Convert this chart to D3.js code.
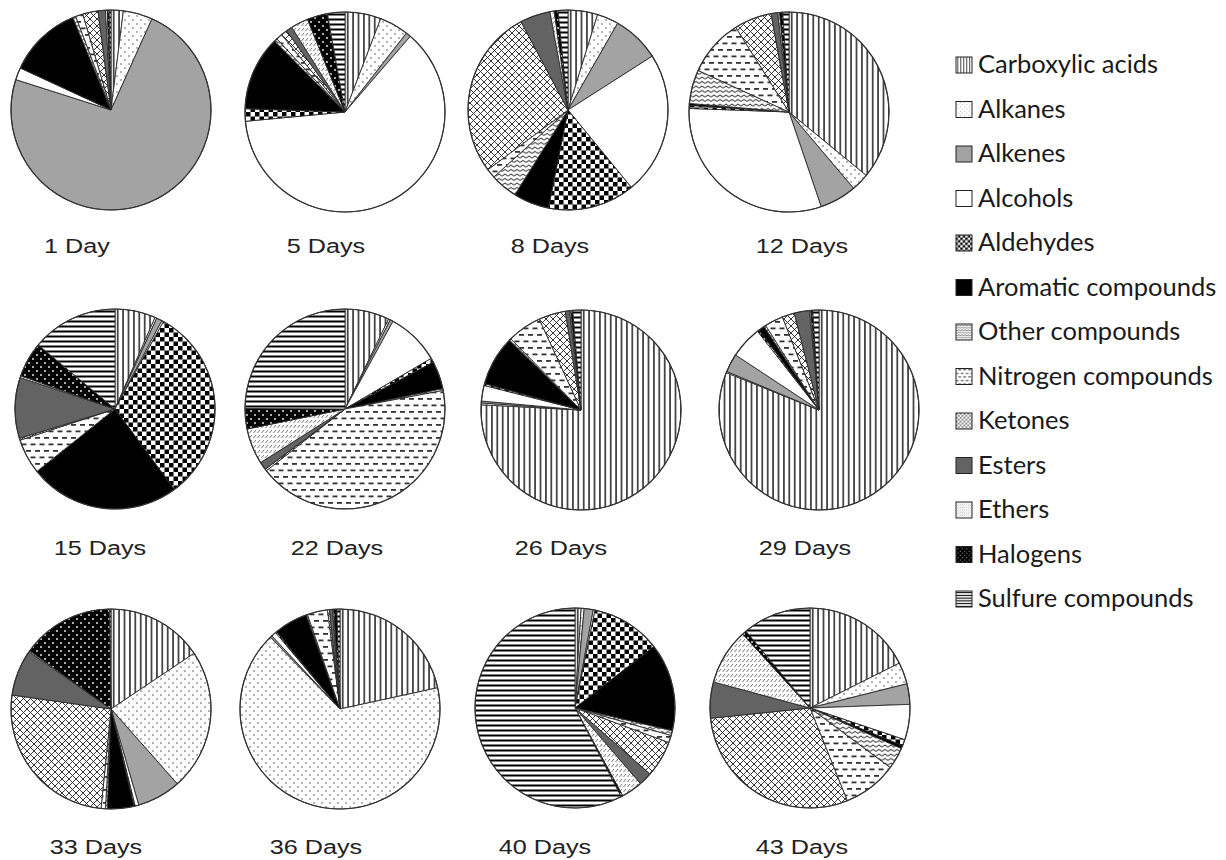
<!DOCTYPE html>
<html><head><meta charset="utf-8">
<script src="https://cdn.jsdelivr.net/npm/d3@7"></script>
<style>body{margin:0;background:#fff}svg{display:block}</style>
</head><body><svg id="c" width="1226" height="860"></svg>
<script>
// ---------- data ----------
const categories = ["Carboxylic acids","Alkanes","Alkenes","Alcohols","Aldehydes","Aromatic compounds","Other compounds","Nitrogen compounds","Ketones","Esters","Ethers","Halogens","Sulfure compounds"];
const dayLabels = ["1 Day","5 Days","8 Days","12 Days","15 Days","22 Days","26 Days","29 Days","33 Days","36 Days","40 Days","43 Days"];
// percentages in category order
const day1  = [2.0, 4.8, 74.0, 2.0, 0.0, 12.0, 0.5, 1.2, 2.5, 1.2, 0.3, 0.3, 0.3];
const day5  = [5.8, 4.7, 0.8, 62.0, 2.0, 12.0, 0.5, 1.0, 1.0, 1.0, 2.8, 3.3, 2.8];
const day8  = [4.8, 3.5, 7.7, 23.2, 14.1, 5.8, 4.4, 1.5, 27.5, 4.9, 0.7, 0.6, 1.6];
const day12 = [36.2, 2.9, 6.0, 31.0, 0.5, 0.3, 5.5, 9.3, 6.1, 1.1, 0.3, 0.5, 1.0];
const day15 = [6.6, 0.3, 0.9, 0.3, 32.0, 24.5, 0.0, 5.7, 0.3, 9.9, 0.3, 5.7, 14.0];
const day22 = [7.2, 0.3, 0.5, 8.6, 0.7, 4.5, 0.3, 42.5, 0.3, 1.3, 5.8, 3.3, 25.0];
const day26 = [75.3, 0.3, 0.3, 2.5, 0.3, 8.0, 0.3, 5.5, 4.3, 0.7, 0.2, 0.3, 1.3];
const day29 = [81.5, 0.2, 3.0, 5.2, 0.3, 1.0, 0.3, 3.0, 2.0, 2.5, 0.2, 0.3, 1.0];
const day33 = [15.7, 23.0, 7.1, 0.6, 0.2, 4.3, 0.3, 0.7, 25.8, 7.5, 0.2, 15.0, 0.2];
const day36 = [21.7, 66.5, 0.3, 0.8, 0.2, 5.5, 0.2, 3.3, 0.3, 0.5, 0.2, 0.5, 0.5];
const day40 = [1.0, 0.5, 1.5, 0.3, 11.5, 14.5, 0.8, 1.2, 6.0, 2.2, 3.5, 0.3, 58.9];
const day43 = [17.5, 3.5, 3.3, 5.7, 1.0, 0.5, 3.5, 8.7, 29.3, 5.8, 9.0, 0.7, 11.0];
const series = [day1, day5, day8, day12, day15, day22, day26, day29, day33, day36, day40, day43];

// ---------- layout ----------
const centers = [[111,110],[345,112],[568,110],[789,112],[115,409],[345,409],[581,410],[819,410],[111,709],[340,709],[575,708],[810,708]];
const labelPos = [[77,253],[326,253],[550,253],[802,253],[100,555],[337,555],[561,555],[805,555],[96,854],[316,854],[545,854],[802,854]];
const R = 100;

const svg = d3.select("#c");
const defs = svg.append("defs");
const keys = ["carb","alka","alke","alco","alde","arom","othe","nitr","keto","este","ethe","halo","sulf"];

function makePatterns(suffix, scale) {
  const P = (id, w, h) => defs.append("pattern").attr("id", id + suffix)
      .attr("patternUnits","userSpaceOnUse").attr("width", w).attr("height", h)
      .attr("patternTransform", scale !== 1 ? `scale(${scale})` : null);
  let p;
  p = P("carb", 5.4, 10); p.append("rect").attr("width",5.4).attr("height",10).attr("fill","#fff");
  p.append("rect").attr("x",2).attr("width",1.4).attr("height",10).attr("fill","#111");
  p = P("alka", 8, 8); p.append("rect").attr("width",8).attr("height",8).attr("fill","#fff");
  p.append("circle").attr("cx",2).attr("cy",2).attr("r",0.75).attr("fill","#444");
  p.append("circle").attr("cx",6).attr("cy",6).attr("r",0.75).attr("fill","#444");
  p = P("alke", 10, 10); p.append("rect").attr("width",10).attr("height",10).attr("fill","#a3a3a3");
  p = P("alco", 10, 10); p.append("rect").attr("width",10).attr("height",10).attr("fill","#fff");
  p = P("alde", 9, 9); p.append("rect").attr("width",9).attr("height",9).attr("fill","#fff");
  p.append("rect").attr("width",4.5).attr("height",4.5).attr("fill","#000");
  p.append("rect").attr("x",4.5).attr("y",4.5).attr("width",4.5).attr("height",4.5).attr("fill","#000");
  p = P("arom", 10, 10); p.append("rect").attr("width",10).attr("height",10).attr("fill","#000");
  p = P("othe", 6, 4.5); p.append("rect").attr("width",6).attr("height",4.5).attr("fill","#fff");
  p.append("path").attr("d","M0,3 L3,1 L6,3").attr("fill","none").attr("stroke","#222").attr("stroke-width",1);
  p = P("nitr", 9, 13); p.append("rect").attr("width",9).attr("height",13).attr("fill","#fff");
  p.append("rect").attr("x",1).attr("y",2).attr("width",5).attr("height",1.8).attr("fill","#333");
  p.append("rect").attr("x",5.5).attr("y",8.5).attr("width",5).attr("height",1.8).attr("fill","#333");
  p.append("rect").attr("x",-3.5).attr("y",8.5).attr("width",5).attr("height",1.8).attr("fill","#333");
  p = P("keto", 7, 7); p.append("rect").attr("width",7).attr("height",7).attr("fill","#fff");
  p.append("path").attr("d","M0,0 L7,7 M7,0 L0,7 M-1,6 L1,8 M6,-1 L8,1 M-1,1 L1,-1 M6,8 L8,6").attr("stroke","#222").attr("stroke-width",0.9);
  p = P("este", 10, 10); p.append("rect").attr("width",10).attr("height",10).attr("fill","#636363");
  p = P("ethe", 4, 5); p.append("rect").attr("width",4).attr("height",5).attr("fill","#fff");
  p.append("path").attr("d","M0.5,4 L3,1").attr("stroke","#777").attr("stroke-width",1);
  p = P("halo", 8, 8); p.append("rect").attr("width",8).attr("height",8).attr("fill","#000");
  p.append("circle").attr("cx",2).attr("cy",2).attr("r",0.9).attr("fill","#fff");
  p.append("circle").attr("cx",6).attr("cy",6).attr("r",0.9).attr("fill","#fff");
  p = P("sulf", 10, 5); p.append("rect").attr("width",10).attr("height",5).attr("fill","#fff");
  p.append("rect").attr("y",1.5).attr("width",10).attr("height",2).attr("fill","#000");
}
makePatterns("", 1);
makePatterns("L", 0.55);

const pie = d3.pie().sort(null).value(d => d.v);
const arc = d3.arc().innerRadius(0).outerRadius(R);

series.forEach((vals, i) => {
  const data = vals.map((v, k) => ({v, k}));
  const g = svg.append("g").attr("transform", `translate(${centers[i][0]},${centers[i][1]})`);
  g.selectAll("path").data(pie(data).filter(d => d.data.v > 0)).join("path")
    .attr("d", arc)
    .attr("fill", d => `url(#${keys[d.data.k]})`)
    .attr("stroke", "#2a2a2a").attr("stroke-width", 0.9).attr("stroke-linejoin","round");
  g.append("circle").attr("r", R).attr("fill","none").attr("stroke","#333").attr("stroke-width",1.2);
  svg.append("text")
    .attr("transform", `translate(${labelPos[i][0]},${labelPos[i][1]}) scale(1.2,1)`)
    .attr("text-anchor","middle")
    .attr("font-family","'Liberation Sans', Arial, sans-serif")
    .attr("font-size", 21).attr("fill","#222")
    .text(dayLabels[i]);
});

// legend
const lg = svg.append("g");
const y0 = 73, dy = 44.5;
categories.forEach((c, k) => {
  const y = y0 + k * dy;
  lg.append("rect").attr("x", 956).attr("y", y - 16).attr("width", 16).attr("height", 16)
    .attr("fill", `url(#${keys[k]}L)`).attr("stroke","#222").attr("stroke-width",1);
  lg.append("text").attr("x", 978).attr("y", y)
    .attr("font-family","Lato, 'Open Sans', sans-serif").attr("font-size", 25.5).attr("fill","#1a1a1a")
    .text(c);
});
</script>
</body></html>
